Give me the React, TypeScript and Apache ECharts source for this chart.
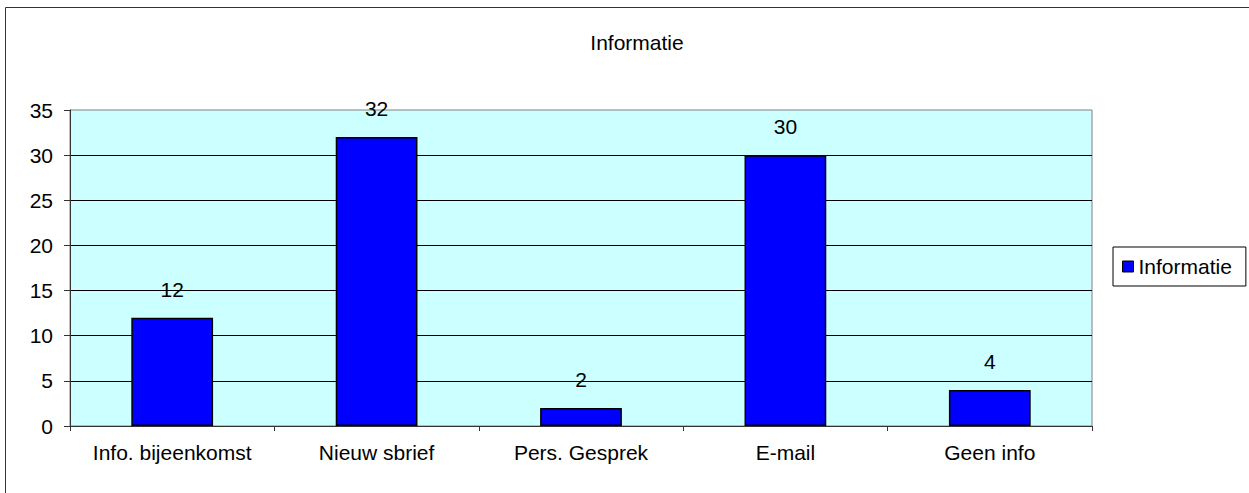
import React, { useEffect, useRef } from "react";
import * as echarts from "echarts";

const title = "Informatie";
const seriesName = "Informatie";
const categories = ["Info. bijeenkomst", "Nieuw sbrief", "Pers. Gesprek", "E-mail", "Geen info"];
const values = [12, 32, 2, 30, 4];
const yMin = 0;
const yMax = 35;
const yInterval = 5;

const FONT = 'Arial, "Liberation Sans", sans-serif';
const FS = 21;

export default function App() {
  const ref = useRef<HTMLDivElement>(null);
  useEffect(() => {
    document.body.style.margin = "0";
    if (!ref.current) return;
    const chart = echarts.init(ref.current, undefined, { renderer: "svg" });
    chart.setOption({
      animation: false,
      backgroundColor: "#ffffff",
      textStyle: { fontFamily: FONT },
      title: {
        text: title,
        left: 632,
        textAlign: "center",
        top: 27,
        textStyle: { fontSize: FS, fontWeight: "normal", color: "#000", fontFamily: FONT },
      },
      legend: {
        data: [seriesName],
        left: 1113,
        top: 247,
        orient: "vertical",
        icon: "rect",
        itemWidth: 11,
        itemHeight: 11,
        itemGap: 0,
        padding: [9, 14, 9, 9],
        borderColor: "#000",
        borderWidth: 1,
        backgroundColor: "#fff",
        itemStyle: { borderColor: "#000", borderWidth: 1 },
        textStyle: { fontSize: FS, color: "#000", fontFamily: FONT, padding: [0, 0, 0, 0] },
      },
      graphic: [
        {
          type: "rect",
          shape: { x: 5.5, y: 7.5, width: 1300, height: 600 },
          style: { fill: "none", stroke: "#333", lineWidth: 1 },
          silent: true,
          z: -1,
        },
      ],
      grid: {
        left: 70,
        right: 157,
        top: 110,
        bottom: 67,
        show: true,
        backgroundColor: "#CCFFFF",
        borderColor: "#808080",
        borderWidth: 1,
        containLabel: false,
      },
      xAxis: {
        type: "category",
        data: categories,
        axisLine: { show: true, lineStyle: { color: "#333", width: 1 } },
        axisTick: { show: true, length: 5, lineStyle: { color: "#333" } },
        axisLabel: { fontSize: FS, color: "#000", margin: 16, fontFamily: FONT, interval: 0 },
      },
      yAxis: {
        type: "value",
        min: yMin,
        max: yMax,
        interval: yInterval,
        axisLine: { show: true, lineStyle: { color: "#333", width: 1 } },
        axisTick: { show: true, length: 6, lineStyle: { color: "#333" } },
        axisLabel: { fontSize: FS, color: "#000", margin: 17, fontFamily: FONT },
        splitLine: { show: true, showMaxLine: false, lineStyle: { color: "#000", width: 1 } },
      },
      series: [
        {
          name: seriesName,
          type: "bar",
          data: values,
          barWidth: "40%",
          itemStyle: { color: "#0000FF", borderColor: "#000", borderWidth: 1.5 },
          label: {
            show: true,
            position: "top",
            distance: 18,
            fontSize: FS,
            color: "#000",
            fontFamily: FONT,
          },
        },
      ],
    });
    return () => chart.dispose();
  }, []);
  return <div ref={ref} style={{ width: 1249, height: 493 }} />;
}
